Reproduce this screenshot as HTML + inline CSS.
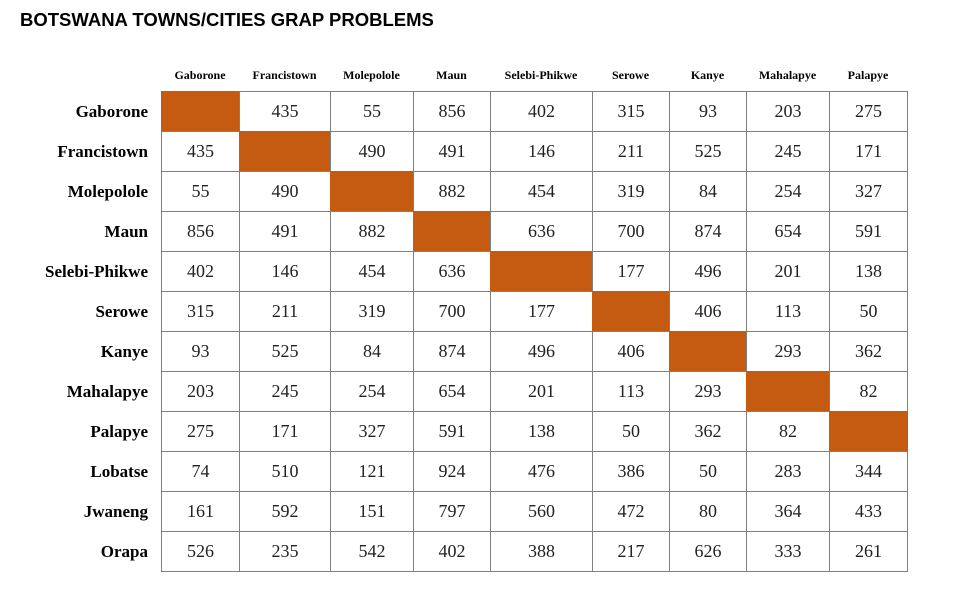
<!DOCTYPE html>
<html><head><meta charset="utf-8"><style>
body{margin:0;width:971px;height:601px;background:#fff;position:relative;overflow:hidden}
.t{position:absolute;left:20px;top:9px;font:bold 18.5px "Liberation Sans",sans-serif;color:#000}
.h{position:absolute;top:68px;font:bold 12px "Liberation Serif",serif;transform:translateX(-50%);white-space:nowrap}
.r{position:absolute;right:823px;font:bold 17px "Liberation Serif",serif;white-space:nowrap}
.c{position:absolute;box-sizing:border-box;border:1px solid #808080;font:18px "Liberation Serif",serif;color:#222;display:flex;align-items:center;justify-content:center}
</style></head><body>
<div class="t">BOTSWANA TOWNS/CITIES GRAP PROBLEMS</div>
<div id="g"></div>
<script>
const cols=["Gaborone","Francistown","Molepolole","Maun","Selebi-Phikwe","Serowe","Kanye","Mahalapye","Palapye"];
const rows=["Gaborone","Francistown","Molepolole","Maun","Selebi-Phikwe","Serowe","Kanye","Mahalapye","Palapye","Lobatse","Jwaneng","Orapa"];
const vals=[
[null,435,55,856,402,315,93,203,275],
[435,null,490,491,146,211,525,245,171],
[55,490,null,882,454,319,84,254,327],
[856,491,882,null,636,700,874,654,591],
[402,146,454,636,null,177,496,201,138],
[315,211,319,700,177,null,406,113,50],
[93,525,84,874,496,406,null,293,362],
[203,245,254,654,201,113,293,null,82],
[275,171,327,591,138,50,362,82,null],
[74,510,121,924,476,386,50,283,344],
[161,592,151,797,560,472,80,364,433],
[526,235,542,402,388,217,626,333,261]];
const xs=[161,239,330,413,490,592,669,746,829,907];
const y0=91,rh=40;
const g=document.getElementById('g');
cols.forEach((c,j)=>{const d=document.createElement('div');d.className='h';


d.style.left=((xs[j]+xs[j+1])/2)+'px';d.textContent=c;g.appendChild(d);});
rows.forEach((r,i)=>{const d=document.createElement('div');d.className='r';


d.style.top=(y0+i*rh+11)+'px';d.textContent=r;g.appendChild(d);
vals[i].forEach((v,j)=>{const c=document.createElement('div');c.className='c';


c.style.left=xs[j]+'px';c.style.top=(y0+i*rh)+'px';c.style.width=(xs[j+1]-xs[j]+1)+'px';c.style.height=(rh+1)+'px';
if(v===null){c.style.background='#C55A11';c.style.borderColor='#C55A11';}else c.textContent=v;
g.appendChild(c);});});
</script>
</body></html>
